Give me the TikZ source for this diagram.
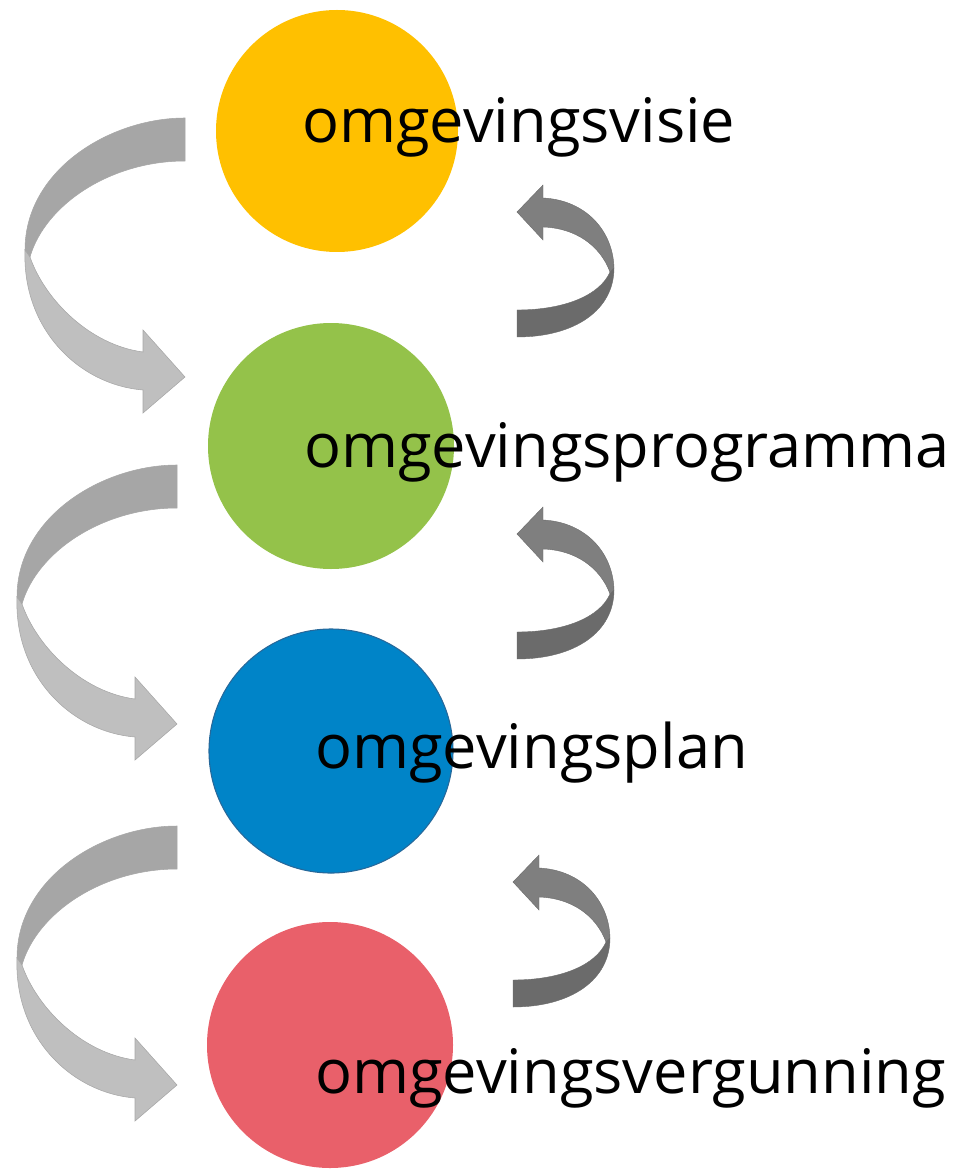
\documentclass[tikz,border=0pt]{standalone}
\usepackage{fontspec}
\setmainfont{Open Sans}
\usepackage{tikz}
\usetikzlibrary{positioning}

\definecolor{visieGeel}{HTML}{FFC000}
\definecolor{programmaGroen}{HTML}{94C24A}
\definecolor{planBlauw}{HTML}{0084C8}
\definecolor{planRand}{HTML}{27689A}
\definecolor{vergunningRood}{HTML}{E9606A}
\definecolor{pijlBoven}{HTML}{A6A6A6}
\definecolor{pijlOnder}{HTML}{BFBFBF}
\definecolor{terugOnder}{HTML}{6B6B6B}
\definecolor{terugBoven}{HTML}{7F7F7F}

\begin{document}
\begin{tikzpicture}[
		x=0.75pt, y=-0.75pt,
		% Styles
		fase/.style={circle, inner sep=0pt, minimum size={#1*0.75pt}},
		faseText/.style={anchor=base west, inner sep=0pt, font=\fontsize{46}{54}\selectfont},
		pijlRand/.style={draw=gray!70, line width=0.4pt},
		terugRand/.style={draw=terugOnder, line width=0.3pt}
	]

	\useasboundingbox (0,0) rectangle (969,1169);

	% --- 1. DE VIER FASES (CIRKELS) ---
	\node[fase=242, fill=visieGeel] (visie) at (337,131) {};
	\node[fase=246, fill=programmaGroen] (programma) at (331,446) {};
	\node[fase=244, fill=planBlauw, draw=planRand, line width=0.8pt] (plan) at (331,751) {};
	\node[fase=246, fill=vergunningRood] (vergunning) at (330,1045) {};

	% --- 2. DE TEKSTEN ---
	\node[faseText] (visieText) at (302,143) {omgevingsvisie};
	\node[faseText] (programmaText) at (304,467) {omgevingsprogramma};
	\node[faseText] (planText) at (315,768) {omgevingsplan};
	\node[faseText] (vergunningText) at (315,1093) {omgevingsvergunning};

	% --- 3. GROTE PIJLEN LINKS (NAAR DE VOLGENDE FASE) ---
	% Bovenste deel van het lint donker, onderste deel licht
	\foreach \dx/\dy in {0/0, -8/347, -8/708} {
			\begin{scope}[shift={(\dx,\dy)}]
				\filldraw[pijlRand, fill=pijlBoven] (185,118) .. controls (110,118) and (25,170) .. (25,250)
				-- (30,257) .. controls (45,205) and (110,161) .. (185,161) -- cycle;
				\filldraw[pijlRand, fill=pijlOnder] (25,250) .. controls (22,330) and (80,385) .. (143,390)
				-- (143,413) -- (185,377) -- (143,330) -- (143,352)
				.. controls (90,345) and (45,300) .. (30,257) -- cycle;
			\end{scope}
		}

	% --- 4. KLEINE PIJLEN RECHTS (TERUGKOPPELING) ---
	\foreach \dx/\dy in {0/0, 0/322, -4/670} {
			\begin{scope}[shift={(\dx,\dy)}]
				\filldraw[terugRand, fill=terugOnder] (517,310) .. controls (565,310) and (600,295) .. (610,272)
				-- (614,268) .. controls (614,310) and (575,337) .. (517,337) -- cycle;
				\filldraw[terugRand, fill=terugBoven] (614,268) .. controls (613,230) and (585,200) .. (543,198)
				-- (543,185) -- (517,212) -- (543,240) -- (543,227)
				.. controls (575,228) and (600,245) .. (610,272) -- cycle;
			\end{scope}
		}

\end{tikzpicture}
\end{document}
